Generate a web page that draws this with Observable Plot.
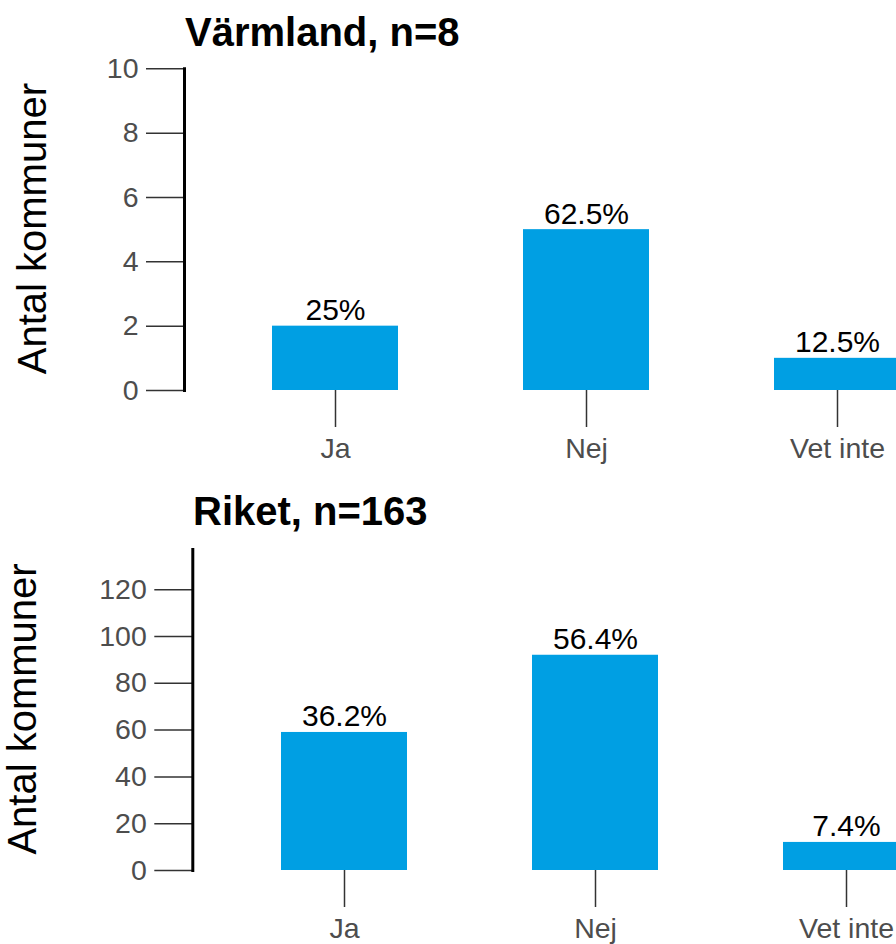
<!DOCTYPE html>
<html><head><meta charset="utf-8">
<script src="https://cdn.jsdelivr.net/npm/d3@7"></script>
<script src="https://cdn.jsdelivr.net/npm/@observablehq/plot@0.6"></script>
<style>
html,body{margin:0;padding:0;background:#fff;overflow:hidden;}
#wrap{position:relative;width:896px;height:944px;overflow:hidden;font-family:"Liberation Sans",Arial,sans-serif;}
.title{position:absolute;font-weight:bold;font-size:40px;line-height:40px;color:#000;white-space:nowrap;}
.panel{position:absolute;left:0;}
</style></head>
<body><div id="wrap">
<div class="title" id="t1" style="left:185px;top:12px"></div>
<div class="panel" id="p1" style="top:60px"></div>
<div class="title" id="t2" style="left:193px;top:491px"></div>
<div class="panel" id="p2" style="top:540px"></div>
</div>
<script>
const categories = ["Ja", "Nej", "Vet inte"];
const varmlandCounts = [2, 5, 1];
const riketCounts = [59, 92, 12];
const varmlandN = 8;
const riketN = 163;
const varmlandTicks = [0, 2, 4, 6, 8, 10];
const riketTicks = [0, 20, 40, 60, 80, 100, 120];
const yLabel = "Antal kommuner";

function fmt(p) { return (Math.round(p * 1000) / 10) + "%"; }

function panel({counts, n, ticks, yMax, left, height, marginTop, marginBottom, labelX}) {
  const data = categories.map((c, i) => ({cat: c, count: counts[i], pct: fmt(counts[i] / n)}));
  const step = 251.3;
  return Plot.plot({
    width: 896, height, marginLeft: left, marginRight: 0, marginTop, marginBottom,
    style: {fontFamily: "Liberation Sans, Arial, sans-serif", background: "transparent", overflow: "visible"},
    x: {domain: categories, range: [left, left + 3.2 * step], paddingInner: 0.5, paddingOuter: 0.35},
    y: {domain: [0, yMax]},
    marks: [
      Plot.barY(data, {x: "cat", y: "count", fill: "#009FE3"}),
      Plot.text(data, {x: "cat", y: "count", text: "pct", lineAnchor: "bottom", dy: -6, fontSize: 30, fill: "black"}),
      Plot.axisY({ticks, tickSize: 38, tickPadding: 8, fontSize: 28.5, stroke: "#333", strokeWidth: 1.5, fill: "#4d4d4d", label: null, tickFormat: d => String(d)}),
      Plot.axisX({tickSize: 37, tickPadding: 10, fontSize: 28.5, stroke: "#333", strokeWidth: 1.5, fill: "#4d4d4d", label: null}),
      Plot.frame({anchor: "left", stroke: "black", strokeWidth: 3}),
      Plot.text([yLabel], {text: d => d, frameAnchor: "left", textAnchor: "middle", rotate: -90, dx: labelX - left, dy: -1, fontSize: 40, fill: "black"})
    ]
  });
}

document.getElementById("t1").textContent = "Värmland, n=" + varmlandN;
document.getElementById("t2").textContent = "Riket, n=" + riketN;

document.getElementById("p1").append(panel({
  counts: varmlandCounts, n: varmlandN, ticks: varmlandTicks, yMax: 10,
  left: 184, height: 420, marginTop: 8.3, marginBottom: 90, labelX: 32.5
}));
document.getElementById("p2").append(panel({
  counts: riketCounts, n: riketN, ticks: riketTicks, yMax: 137.2,
  left: 192.3, height: 404, marginTop: 9, marginBottom: 74, labelX: 22.5
}));
</script>
</body></html>
